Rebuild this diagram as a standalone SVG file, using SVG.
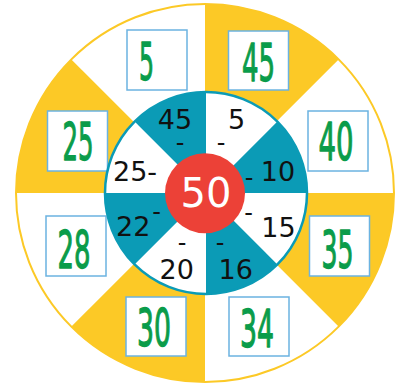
<svg xmlns="http://www.w3.org/2000/svg" width="403" height="383" viewBox="0 0 403 383">
<style>
.y{fill:#fcc926}
.t{fill:#0b9bb6}
.box{fill:#fff;stroke:#6bb3e1;stroke-width:1.5}
.g{fill:#0a9c4a;stroke:#0a9c4a;stroke-width:1.3;stroke-linejoin:round;font-family:"DejaVu Sans",sans-serif;font-size:52px;text-anchor:middle}
.n{fill:#111;font-family:"DejaVu Sans",sans-serif;font-size:27px;text-anchor:middle}
.d{fill:#111;font-family:"DejaVu Sans",sans-serif;font-size:24px;text-anchor:middle}
.c{fill:#fff;font-family:"DejaVu Sans",sans-serif;font-size:40px;text-anchor:middle}
</style>
<rect width="403" height="383" fill="#fff"/>
<g id="outer-ring">
<circle cx="205" cy="193" r="189" fill="#fff"/>
<path class="y" d="M205,193 L205,4 A189,189 0 0 1 338.6,59.4 Z"/>
<path class="y" d="M205,193 L394,193 A189,189 0 0 1 338.6,326.6 Z"/>
<path class="y" d="M205,193 L205,382 A189,189 0 0 1 71.4,326.6 Z"/>
<path class="y" d="M205,193 L16,193 A189,189 0 0 1 71.4,59.4 Z"/>
<circle cx="205" cy="193" r="189" fill="none" stroke="#fcc926" stroke-width="2"/>
</g>
<g id="box-5"><rect class="box" x="127" y="30" width="60" height="60"/><text class="g" x="146.5" y="80" textLength="15" lengthAdjust="spacingAndGlyphs">5</text></g>
<g id="box-45"><rect class="box" x="228.5" y="31" width="60" height="59"/><text class="g" x="258.5" y="81" textLength="33" lengthAdjust="spacingAndGlyphs">45</text></g>
<g id="box-25"><rect class="box" x="47.5" y="111" width="60" height="60"/><text class="g" x="78" y="160" textLength="31" lengthAdjust="spacingAndGlyphs">25</text></g>
<g id="box-40"><rect class="box" x="308" y="111" width="60" height="60"/><text class="g" x="336" y="160" textLength="35" lengthAdjust="spacingAndGlyphs">40</text></g>
<g id="box-28"><rect class="box" x="46" y="216" width="60" height="60"/><text class="g" x="74" y="268" textLength="33" lengthAdjust="spacingAndGlyphs">28</text></g>
<g id="box-35"><rect class="box" x="309.5" y="216" width="60" height="60"/><text class="g" x="337.5" y="268" textLength="32" lengthAdjust="spacingAndGlyphs">35</text></g>
<g id="box-30"><rect class="box" x="126" y="297" width="60" height="59"/><text class="g" x="154" y="346" textLength="34" lengthAdjust="spacingAndGlyphs">30</text></g>
<g id="box-34"><rect class="box" x="229" y="297" width="60" height="59"/><text class="g" x="257" y="347" textLength="34" lengthAdjust="spacingAndGlyphs">34</text></g>
<g id="inner-ring">
<circle cx="206" cy="193" r="101" fill="#fff"/>
<path class="t" d="M206,193 L277.4,121.6 A101,101 0 0 1 307,193 Z"/>
<path class="t" d="M206,193 L277.4,264.4 A101,101 0 0 1 206,294 Z"/>
<path class="t" d="M206,193 L134.6,264.4 A101,101 0 0 1 105,193 Z"/>
<path class="t" d="M206,193 L134.6,121.6 A101,101 0 0 1 206,92 Z"/>
<circle cx="206" cy="193" r="101" fill="none" stroke="#0b9bb6" stroke-width="2.5"/>
</g>
<g id="inner-45"><text class="n" x="175" y="128.5">45</text><text class="d" x="180" y="150.5">-</text></g>
<g id="inner-5"><text class="n" x="236.5" y="129">5</text><text class="d" x="221" y="150.5">-</text></g>
<g id="inner-10"><text class="n" x="278" y="181">10</text><text class="d" x="249" y="185.5">-</text></g>
<g id="inner-15"><text class="n" x="278.5" y="237">15</text><text class="d" x="248.5" y="220.5">-</text></g>
<g id="inner-16"><text class="n" x="235.7" y="278.5">16</text><text class="d" x="220" y="250.5">-</text></g>
<g id="inner-20"><text class="n" x="176.7" y="278.5">20</text><text class="d" x="182" y="250.5">-</text></g>
<g id="inner-22"><text class="n" x="133.3" y="236">22</text><text class="d" x="156.7" y="220">-</text></g>
<g id="inner-25"><text class="n" x="113" y="180.5" style="text-anchor:start">25-</text></g>
<g id="center-50"><circle cx="205" cy="193.3" r="40" fill="#ec4137"/><text class="c" x="206" y="207">50</text></g>
</svg>
